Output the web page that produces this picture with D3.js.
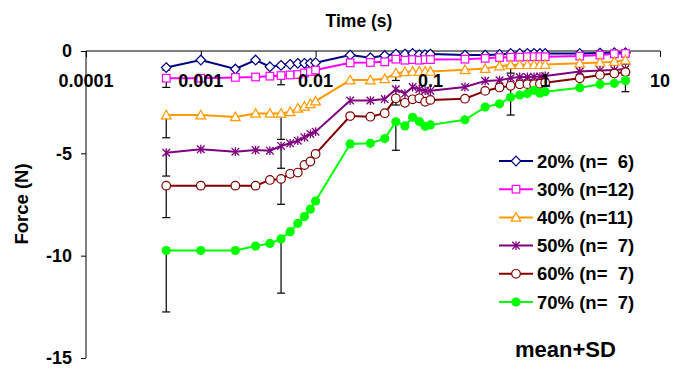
<!DOCTYPE html>
<html>
<head>
<meta charset="utf-8">
<script src="https://cdn.jsdelivr.net/npm/d3@7"></script>
<style>
  html, body { margin: 0; padding: 0; background: #fff; }
  svg { display: block; font-family: "Liberation Sans", Arial, sans-serif; }
  text { white-space: pre; }
</style>
</head>
<body>
<svg id="chart" width="675" height="369"></svg>
<script>
// ---- data ----
const times = [0.0005, 0.001, 0.002, 0.003, 0.004, 0.005, 0.006, 0.007, 0.008, 0.009, 0.01,
  0.02, 0.03, 0.04, 0.05, 0.06, 0.07, 0.08, 0.09, 0.1,
  0.2, 0.3, 0.4, 0.5, 0.6, 0.7, 0.8, 0.9, 1,
  2, 3, 4, 5];

const f20 = [-0.81, -0.44, -0.88, -0.44, -0.77, -0.70, -0.65, -0.60, -0.60, -0.60, -0.57,
  -0.20, -0.33, -0.22, -0.15, -0.15, -0.12, -0.18, -0.18, -0.15,
  -0.20, -0.20, -0.17, -0.12, -0.12, -0.12, -0.12, -0.12, -0.12,
  -0.12, -0.10, -0.08, -0.08];
const f30 = [-1.33, -1.33, -1.29, -1.27, -1.23, -1.20, -1.17, -1.15, -1.07, -1.00, -0.93,
  -0.58, -0.56, -0.53, -0.40, -0.45, -0.42, -0.45, -0.42, -0.42,
  -0.40, -0.36, -0.32, -0.30, -0.30, -0.28, -0.28, -0.28, -0.28,
  -0.25, -0.20, -0.14, -0.12];
const f40 = [-3.13, -3.13, -3.22, -3.05, -3.05, -3.05, -2.97, -2.80, -2.70, -2.58, -2.45,
  -1.42, -1.42, -1.36, -1.08, -1.02, -1.00, -1.00, -1.00, -1.00,
  -0.92, -0.86, -0.74, -0.68, -0.67, -0.67, -0.67, -0.67, -0.66,
  -0.60, -0.56, -0.52, -0.44];
const f50 = [-4.97, -4.80, -4.92, -4.84, -4.87, -4.64, -4.51, -4.38, -4.22, -4.05, -3.94,
  -2.42, -2.42, -2.35, -1.87, -2.08, -1.76, -1.87, -1.94, -1.94,
  -1.76, -1.46, -1.43, -1.32, -1.27, -1.27, -1.26, -1.25, -1.22,
  -1.00, -0.95, -0.93, -0.88];
const f60 = [-6.58, -6.58, -6.58, -6.58, -6.30, -6.25, -6.00, -5.94, -5.57, -5.40, -5.03,
  -3.18, -3.21, -3.04, -2.31, -2.53, -2.36, -2.31, -2.48, -2.39,
  -2.33, -1.95, -1.78, -1.70, -1.63, -1.62, -1.62, -1.60, -1.55,
  -1.33, -1.17, -1.10, -1.03];
const f70 = [-9.75, -9.75, -9.75, -9.53, -9.40, -9.18, -8.83, -8.42, -8.09, -7.73, -7.33,
  -4.54, -4.51, -4.28, -3.46, -3.66, -3.24, -3.45, -3.68, -3.61,
  -3.36, -2.74, -2.58, -2.26, -2.15, -2.08, -1.92, -2.06, -1.99,
  -1.79, -1.63, -1.58, -1.45];

// error bars (SD, drawn downward) at selected times
const sdTimes = [0.0005, 0.005, 0.05, 0.5, 5];
const sd20 = [0.12, 0.10, 0.05, 0.05, 0.05];
const sd30 = [0.45, 0.45, 0.10, 0.10, 0.05];
const sd40 = [1.11, 1.27, 0.36, 0.40, 0.20];
const sd50 = [1.14, 1.09, 0.40, 0.40, 0.30];
const sd60 = [1.56, 1.24, 0.33, 0.50, 0.30];
const sd70 = [3.00, 2.65, 1.39, 0.87, 0.54];

const seriesNames = ["20% (n=  6)", "30% (n=12)", "40% (n=11)", "50% (n=  7)", "60% (n=  7)", "70% (n=  7)"];
const seriesColors = ["#000080", "#FF00FF", "#FF9900", "#800080", "#800000", "#00FF00"];
const seriesMarkers = ["diamond", "square", "triangle", "star", "circle", "dot"];

const xTicks = [0.0001, 0.001, 0.01, 0.1, 1, 10];
const xTickLabels = ["0.0001", "0.001", "0.01", "0.1", "1", "10"];
const yTicks = [0, -5, -10, -15];

// ---- build ----
const values = [f20, f30, f40, f50, f60, f70];
const sds = [sd20, sd30, sd40, sd50, sd60, sd70];
const series = seriesNames.map((name, i) => ({
  name, color: seriesColors[i], marker: seriesMarkers[i],
  points: times.map((t, j) => ({ t, v: values[i][j] })),
  sd: sdTimes.map((t, j) => ({ t, v: values[i][times.indexOf(t)], s: sds[i][j] }))
}));

const svg = d3.select("#chart");
const x = d3.scaleLog().domain([0.0001, 10]).range([86, 660]);
const y = d3.scaleLinear().domain([0, -15]).range([51, 358]);

// axes
const xAxisG = svg.append("g").attr("transform", `translate(0,${y(0)})`)
  .call(d3.axisBottom(x).tickValues(xTicks).tickSize(6).tickFormat(""));
xAxisG.select(".domain").attr("stroke", "#000").attr("stroke-width", 1).attr("d", `M${x(0.0001)},0H${x(10)}`);
xAxisG.selectAll(".tick line").attr("stroke", "#000");

const yAxisG = svg.append("g").attr("transform", `translate(${x(0.0001)},0)`)
  .call(d3.axisLeft(y).tickValues(yTicks).tickSize(5).tickPadding(9)
    .tickFormat(d => d === 0 ? "0" : "-" + Math.abs(d)));
yAxisG.select(".domain").attr("stroke", "#000").attr("d", `M0,${y(0)}V${y(-15)}`);
yAxisG.selectAll(".tick line").attr("stroke", "#000");
yAxisG.selectAll(".tick text").attr("font-size", 18).attr("font-weight", "bold")
  .attr("fill", "#000").attr("font-family", "Liberation Sans, Arial, sans-serif");

// series lines
const line = d3.line().x(d => x(d.t)).y(d => y(d.v));
const plot = svg.append("g");
series.forEach(s => {
  plot.append("path").datum(s.points).attr("d", line)
    .attr("fill", "none").attr("stroke", s.color).attr("stroke-width", 2);
});

// error bars
const eb = svg.append("g").attr("stroke", "#000").attr("stroke-width", 1.2);
series.forEach(s => {
  s.sd.forEach(d => {
    const px = x(d.t), y0 = y(d.v), y1 = y(d.v - d.s);
    eb.append("line").attr("x1", px).attr("x2", px).attr("y1", y0).attr("y2", y1);
    eb.append("line").attr("x1", px - 4).attr("x2", px + 4).attr("y1", y1).attr("y2", y1);
  });
});

function drawMarker(g, type, color, cx, cy) {
  if (type === "diamond") {
    g.append("path").attr("d", `M${cx},${cy - 4.8}L${cx + 4.8},${cy}L${cx},${cy + 4.8}L${cx - 4.8},${cy}Z`)
      .attr("fill", "#fff").attr("stroke", color).attr("stroke-width", 1.2);
  } else if (type === "square") {
    g.append("rect").attr("x", cx - 3.8).attr("y", cy - 3.8).attr("width", 7.6).attr("height", 7.6)
      .attr("fill", "#fff").attr("stroke", color).attr("stroke-width", 1.2);
  } else if (type === "triangle") {
    g.append("path").attr("d", `M${cx},${cy - 4.8}L${cx + 4.8},${cy + 3.8}L${cx - 4.8},${cy + 3.8}Z`)
      .attr("fill", "#fff").attr("stroke", color).attr("stroke-width", 1.2);
  } else if (type === "star") {
    const r = 3.8;
    g.append("path").attr("d",
      `M${cx - r},${cy - r}L${cx + r},${cy + r}M${cx - r},${cy + r}L${cx + r},${cy - r}M${cx},${cy - r - 0.6}L${cx},${cy + r + 0.6}`)
      .attr("fill", "none").attr("stroke", color).attr("stroke-width", 1.3);
  } else if (type === "circle") {
    g.append("circle").attr("cx", cx).attr("cy", cy).attr("r", 4.3)
      .attr("fill", "#fff").attr("stroke", color).attr("stroke-width", 1.2);
  } else if (type === "dot") {
    g.append("circle").attr("cx", cx).attr("cy", cy).attr("r", 4.6).attr("fill", color);
  }
}

const markers = svg.append("g");
series.forEach(s => {
  s.points.forEach(d => drawMarker(markers, s.marker, s.color, x(d.t), y(d.v)));
});

// x tick labels (drawn on top of data)
const xl = svg.append("g");
xTicks.forEach((t, i) => {
  xl.append("text").attr("x", x(t)).attr("y", 87).attr("text-anchor", "middle")
    .attr("font-size", 18).attr("font-weight", "bold").attr("fill", "#000").text(xTickLabels[i]);
});

// titles
svg.append("text").attr("x", 359).attr("y", 27).attr("text-anchor", "middle")
  .attr("font-size", 17.5).attr("font-weight", "bold").text("Time (s)");
svg.append("text").attr("transform", "translate(28,204) rotate(-90)").attr("text-anchor", "middle")
  .attr("font-size", 18.5).attr("font-weight", "bold").text("Force (N)");

// legend
const lg = svg.append("g");
series.forEach((s, i) => {
  const cy = 161 + i * 28.2;
  lg.append("line").attr("x1", 499).attr("x2", 533).attr("y1", cy).attr("y2", cy)
    .attr("stroke", s.color).attr("stroke-width", 2);
  drawMarker(lg, s.marker, s.color, 516, cy);
  lg.append("text").attr("x", 537).attr("y", cy + 6.5).attr("font-size", 18.5)
    .attr("font-weight", "bold").attr("fill", "#000").text(s.name);
});
svg.append("text").attr("x", 515).attr("y", 357).attr("font-size", 22)
  .attr("font-weight", "bold").text("mean+SD");
</script>
</body>
</html>
